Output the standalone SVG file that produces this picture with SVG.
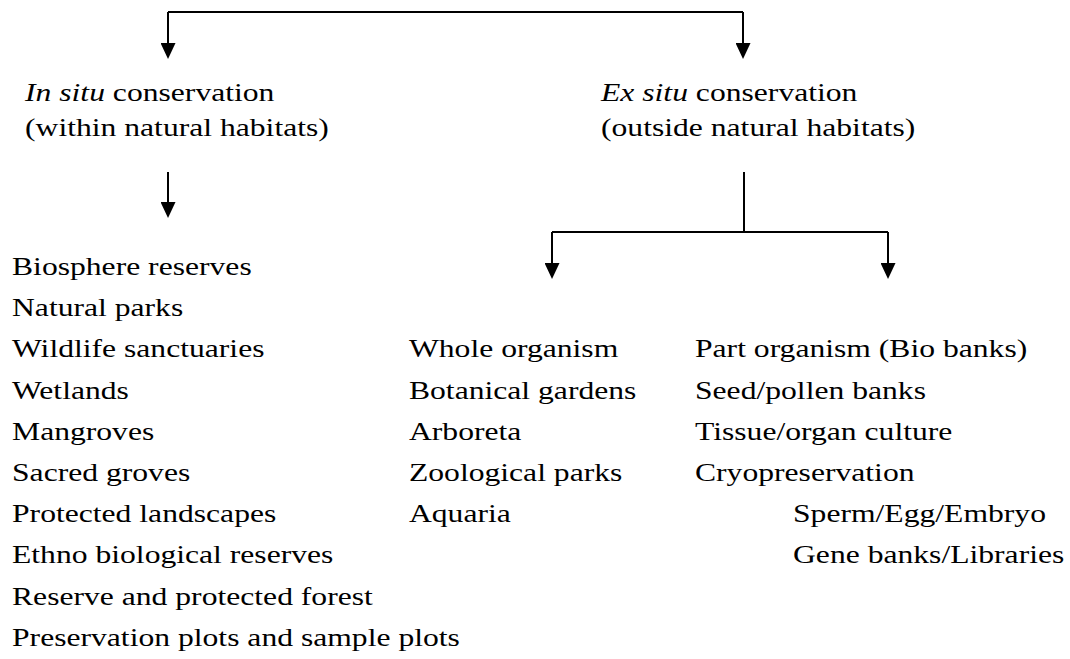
<svg xmlns="http://www.w3.org/2000/svg" width="1070" height="659" viewBox="0 0 1070 659">
<style>
  .t text { font-size: 25px; fill: #000; }
  .it { font-style: italic; }
  .ln { fill: none; stroke: #000; stroke-width: 2; }
</style>
<defs>
  <marker id="ah" markerUnits="userSpaceOnUse" markerWidth="16" markerHeight="15" viewBox="0 0 16 15" refX="6" refY="7.5" orient="auto">
    <path d="M0,0 L16,7.5 L0,15 Z" fill="#000"/>
  </marker>
</defs>
<rect width="1070" height="659" fill="#fff"/>
<g id="connectors">
  <path class="ln" d="M168,12 H743"/>
  <path class="ln" d="M168,12 V49" marker-end="url(#ah)"/>
  <path class="ln" d="M743,12 V49" marker-end="url(#ah)"/>
  <path class="ln" d="M168,172 V208" marker-end="url(#ah)"/>
  <path class="ln" d="M744,172 V232"/>
  <path class="ln" d="M552,232 H888"/>
  <path class="ln" d="M552,232 V269" marker-end="url(#ah)"/>
  <path class="ln" d="M888,232 V269" marker-end="url(#ah)"/>
</g>
<g class="t" font-family="Liberation Serif, DejaVu Serif, serif">
<g id="in-situ">
  <text transform="scale(1.265 1)" x="19.8" y="101"><tspan class="it">In situ</tspan> conservation</text>
  <text transform="scale(1.265 1)" x="19.8" y="136">(within natural habitats)</text>
</g>
<g id="ex-situ">
  <text transform="scale(1.265 1)" x="475.1" y="101"><tspan class="it">Ex situ</tspan> conservation</text>
  <text transform="scale(1.265 1)" x="475.1" y="136">(outside natural habitats)</text>
</g>
<g id="in-situ-list">
  <text transform="scale(1.265 1)" x="9.5" y="275">Biosphere reserves</text>
  <text transform="scale(1.265 1)" x="9.5" y="316.2">Natural parks</text>
  <text transform="scale(1.265 1)" x="9.5" y="357.4">Wildlife sanctuaries</text>
  <text transform="scale(1.265 1)" x="9.5" y="398.6">Wetlands</text>
  <text transform="scale(1.265 1)" x="9.5" y="439.8">Mangroves</text>
  <text transform="scale(1.265 1)" x="9.5" y="481">Sacred groves</text>
  <text transform="scale(1.265 1)" x="9.5" y="522.2">Protected landscapes</text>
  <text transform="scale(1.265 1)" x="9.5" y="563.4">Ethno biological reserves</text>
  <text transform="scale(1.265 1)" x="9.5" y="604.6">Reserve and protected forest</text>
  <text transform="scale(1.265 1)" x="9.5" y="645.8">Preservation plots and sample plots</text>
</g>
<g id="whole-organism">
  <text transform="scale(1.265 1)" x="323.3" y="357.4">Whole organism</text>
  <text transform="scale(1.265 1)" x="323.3" y="398.6">Botanical gardens</text>
  <text transform="scale(1.265 1)" x="323.3" y="439.8">Arboreta</text>
  <text transform="scale(1.265 1)" x="323.3" y="481">Zoological parks</text>
  <text transform="scale(1.265 1)" x="323.3" y="522.2">Aquaria</text>
</g>
<g id="part-organism">
  <text transform="scale(1.265 1)" x="549.4" y="357.4">Part organism (Bio banks)</text>
  <text transform="scale(1.265 1)" x="549.4" y="398.6">Seed/pollen banks</text>
  <text transform="scale(1.265 1)" x="549.4" y="439.8">Tissue/organ culture</text>
  <text transform="scale(1.265 1)" x="549.4" y="481">Cryopreservation</text>
  <text transform="scale(1.265 1)" x="626.9" y="522.2">Sperm/Egg/Embryo</text>
  <text transform="scale(1.265 1)" x="626.9" y="563.4">Gene banks/Libraries</text>
</g>
</g>
</svg>
